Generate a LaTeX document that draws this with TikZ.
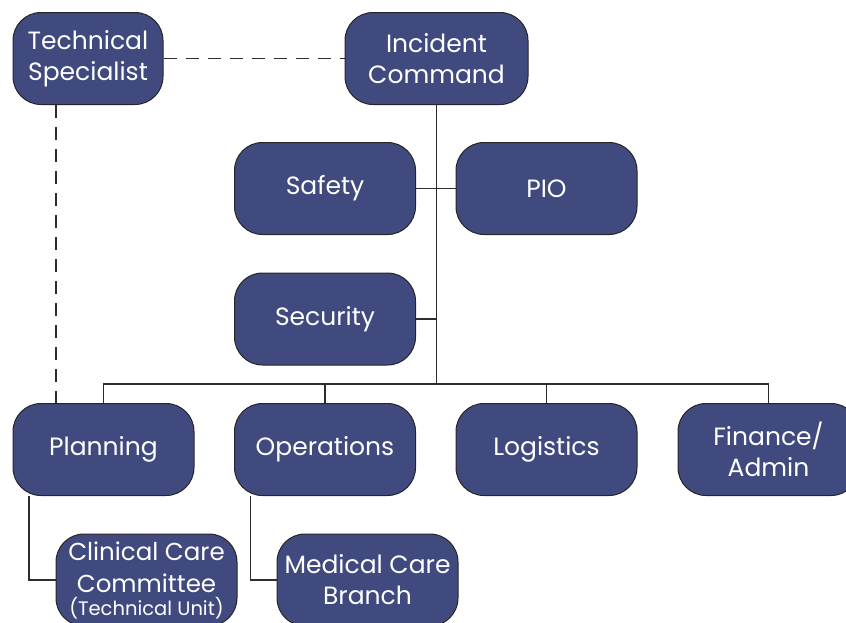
\documentclass[tikz,border=0pt]{standalone}
\usepackage{fontspec}
\setmainfont{Poppins}
\usetikzlibrary{calc}
\definecolor{boxfill}{RGB}{64,74,126}
\definecolor{linec}{RGB}{45,45,45}
\begin{document}
\begin{tikzpicture}[x=1pt,y=-1pt,
  box/.style={draw=black!85, line width=1pt, fill=boxfill, rounded corners=28pt,
    minimum width=181pt, minimum height=92pt, text=white, align=center,
    font=\fontsize{25}{31}\selectfont, inner sep=0pt},
  conn/.style={draw=linec, line width=1.1pt},
  dashconn/.style={draw=linec, line width=1.1pt, dash pattern=on 13pt off 9pt}]
\useasboundingbox (0,0) rectangle (846,622);
\clip (0,0) rectangle (846,622);
\node[box, minimum width=150pt] (ts) at (88,58.5) {Technical\\Specialist};
\node[box, minimum width=183pt] (ic) at (436.5,58.5) {Incident\\Command};
\node[box] (safety) at (325,188.5) {Safety};
\node[box] (pio) at (546.5,188.5) {PIO};
\node[box] (security) at (325,319) {Security};
\node[box] (plan) at (103.5,449.5) {Planning};
\node[box] (ops) at (325,449.5) {Operations};
\node[box] (log) at (546.5,449.5) {Logistics};
\node[box] (fin) at (768.5,449.5) {Finance/\\Admin};
\node[box, font=\fontsize{24.5}{32}\selectfont] (clin) at (146.5,580) {Clinical Care\\Committee\\[-9pt]{\fontsize{19.5}{22}\selectfont(Technical Unit)}};
\node[box] (med) at (367.5,580) {Medical Care\\Branch};
\coordinate (bus) at (436.5,384);
\draw[conn] (ic.south) -- (bus);
\draw[conn] (safety.east) -- (pio.west);
\draw[conn] (security.east) -- (security.east -| bus);
\draw[conn] (plan.north) -- (plan.north |- bus) -- (fin.north |- bus) -- (fin.north);
\draw[conn] (ops.north) -- (ops.north |- bus);
\draw[conn] (log.north) -- (log.north |- bus);
\draw[dashconn] (ts.east) -- (ic.west);
\draw[dashconn] ([xshift=-32pt]ts.south) -- ([xshift=-32pt]ts.south |- plan.north);
\draw[conn] ([xshift=-74.5pt]plan.south) -- ([xshift=-74.5pt]plan.south |- clin.west) -- (clin.west);
\draw[conn] ([xshift=-74.5pt]ops.south) -- ([xshift=-74.5pt]ops.south |- med.west) -- (med.west);
\end{tikzpicture}
\end{document}
